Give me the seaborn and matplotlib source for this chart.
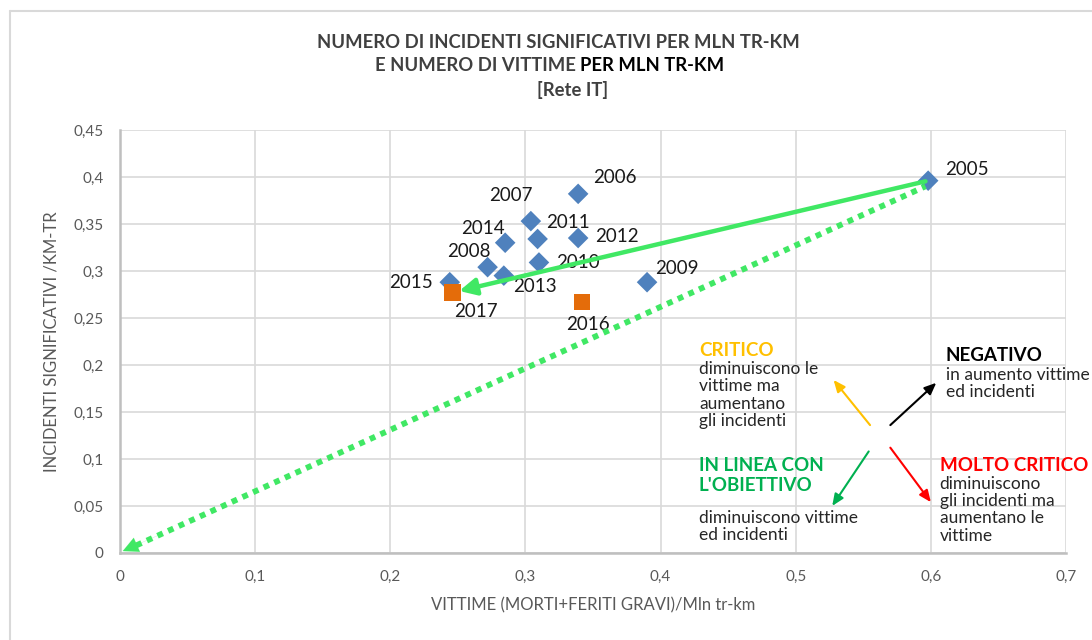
import pandas as pd
import matplotlib.pyplot as plt
import matplotlib.lines as mlines
import seaborn as sns

# dati
anni = ['2005', '2006', '2007', '2008', '2009', '2010', '2011', '2012', '2013', '2014', '2015', '2016', '2017']
vittime = [0.598, 0.339, 0.304, 0.272, 0.390, 0.310, 0.309, 0.339, 0.284, 0.285, 0.244, 0.342, 0.246]
incidenti = [0.396, 0.382, 0.353, 0.304, 0.288, 0.309, 0.334, 0.335, 0.295, 0.330, 0.288, 0.267, 0.277]
gruppo = ['storico'] * 11 + ['recente'] * 2

x_ticks = [0, 0.1, 0.2, 0.3, 0.4, 0.5, 0.6, 0.7]
y_ticks = [0, 0.05, 0.1, 0.15, 0.2, 0.25, 0.3, 0.35, 0.4, 0.45]

df = pd.DataFrame({'anno': anni, 'vittime': vittime, 'incidenti': incidenti, 'gruppo': gruppo})

# offset etichette (punti)
offset_etichette = {
    '2005': (12, 8, 'left'), '2006': (11, 12, 'left'), '2007': (1.5, 18.5, 'right'),
    '2008': (2, 11.5, 'right'), '2009': (6, 10, 'left'), '2010': (12, 0, 'left'),
    '2011': (6, 11.5, 'left'), '2012': (12, 1, 'left'), '2013': (7, -8, 'left'),
    '2014': (-0.5, 10, 'right'), '2015': (-12, 0, 'right'), '2016': (-11.5, -16, 'left'),
    '2017': (1.5, -14, 'left'),
}

sns.set_style('white')
plt.rcParams['font.family'] = ['Lato', 'DejaVu Sans']

fig = plt.figure(figsize=(10.92, 6.4), dpi=100)
ax = fig.add_axes([0.1099, 0.136, 0.8663, 0.661])

grigio = '#595959'
verde = '#40E864'

sns.scatterplot(data=df, x='vittime', y='incidenti', hue='gruppo', style='gruppo', size='gruppo',
                markers={'storico': 'D', 'recente': 's'},
                palette={'storico': '#4F81BD', 'recente': '#E46C0A'},
                sizes={'storico': 110, 'recente': 140},
                edgecolor='none', legend=False, ax=ax, zorder=3)

for a, xv, yv in zip(anni, vittime, incidenti):
    dx, dy, ha = offset_etichette[a]
    ax.annotate(a, (xv, yv), xytext=(dx, dy), textcoords='offset points',
                ha=ha, va='center', fontsize=13.5, color='#1a1a1a', zorder=4)

# frecce verdi
p2005 = (vittime[0], incidenti[0])
p2017 = (vittime[-1], incidenti[-1])
ax.annotate('', xy=p2017, xytext=p2005,
            arrowprops=dict(arrowstyle='-|>,head_length=1.0,head_width=0.5', color=verde,
                            lw=3.2, shrinkA=2, shrinkB=5), zorder=5)
# linea punteggiata 2005 -> origine
ax.plot([0.012, p2005[0] - 0.002], [0.008, p2005[1] - 0.006], color=verde, lw=4.2,
        linestyle=(0, (1, 1)), dash_capstyle='butt', zorder=5)
pendenza = p2005[1] / p2005[0]
ax.annotate('', xy=(0.002, 0.002), xytext=(0.03, 0.03 * pendenza),
            arrowprops=dict(arrowstyle='-|>,head_length=1.1,head_width=0.55', color=verde,
                            lw=0.1, shrinkA=0, shrinkB=0), zorder=5)

# legenda dei quadranti
frecce = [((0.555, 0.136), (0.528, 0.184), '#FFC000'),
          ((0.570, 0.136), (0.604, 0.181), 'black'),
          ((0.554, 0.108), (0.527, 0.050), '#00B050'),
          ((0.570, 0.112), (0.600, 0.054), '#FF0000')]
for start, end, c in frecce:
    ax.annotate('', xy=end, xytext=start,
                arrowprops=dict(arrowstyle='-|>,head_length=0.7,head_width=0.3', color=c,
                                lw=1.5, shrinkA=0, shrinkB=0))

def blocco(x, y_tit, y_desc, titolo, colore, testo):
    ax.text(x, y_tit, titolo, color=colore, fontsize=13.5, fontweight='bold',
            va='top', ha='left', linespacing=1.2, clip_on=False)
    ax.text(x, y_desc, testo, color='#262626', fontsize=12.5,
            va='top', ha='left', linespacing=1.1, clip_on=False)

blocco(0.4284, 0.224, 0.204, 'CRITICO', '#FFC000',
       'diminuiscono le\nvittime ma\naumentano\ngli incidenti')
blocco(0.611, 0.219, 0.198, 'NEGATIVO', 'black', 'in aumento vittime\ned incidenti')
blocco(0.4284, 0.102, 0.046, 'IN LINEA CON\nL\'OBIETTIVO', '#00B050',
       'diminuiscono vittime\ned incidenti')
blocco(0.6065, 0.102, 0.082, 'MOLTO CRITICO', '#FF0000',
       'diminuiscono\ngli incidenti ma\naumentano le\nvittime')

ax.set_xlim(0, 0.7)
ax.set_ylim(0, 0.45)
ax.set_xticks(x_ticks)
ax.set_yticks(y_ticks)
ax.set_xticklabels([f'{v:g}'.replace('.', ',') for v in x_ticks])
ax.set_yticklabels([f'{v:g}'.replace('.', ',') for v in y_ticks])
ax.tick_params(axis='both', length=0, labelsize=11, labelcolor=grigio, pad=12)
ax.grid(True, color='#D9D9D9', lw=1.2)
ax.set_axisbelow(True)
for lato in ['top', 'right']:
    ax.spines[lato].set_visible(False)
for lato in ['left', 'bottom']:
    ax.spines[lato].set_color('#BFBFBF')
    ax.spines[lato].set_linewidth(1.8)

ax.set_xlabel('VITTIME (MORTI+FERITI GRAVI)/Mln tr-km', fontsize=12, color=grigio, labelpad=10)
ax.set_ylabel('INCIDENTI SIGNIFICATIVI /KM-TR', fontsize=12, color=grigio, labelpad=10)

# titolo
fig.text(0.511, 0.934, 'NUMERO DI INCIDENTI SIGNIFICATIVI PER MLN TR-KM',
         ha='center', va='center', fontsize=13.3, fontweight='bold', color='#404040')
fig.text(0.5315, 0.897, 'E NUMERO DI VITTIME ', ha='right', va='center',
         fontsize=13.3, fontweight='bold', color='#404040')
fig.text(0.5315, 0.897, 'PER MLN TR-KM', ha='left', va='center',
         fontsize=13.3, fontweight='bold', color='black')
fig.text(0.524, 0.860, '[Rete IT]', ha='center', va='center',
         fontsize=13.3, fontweight='bold', color='#404040')

# cornice del grafico
fig.add_artist(mlines.Line2D([10 / 1092, 1], [1 - 11 / 640] * 2, color='#D9D9D9', lw=1.5))
fig.add_artist(mlines.Line2D([10 / 1092] * 2, [0, 1 - 11 / 640], color='#D9D9D9', lw=1.5))

fig.savefig('out.png', dpi=100)
